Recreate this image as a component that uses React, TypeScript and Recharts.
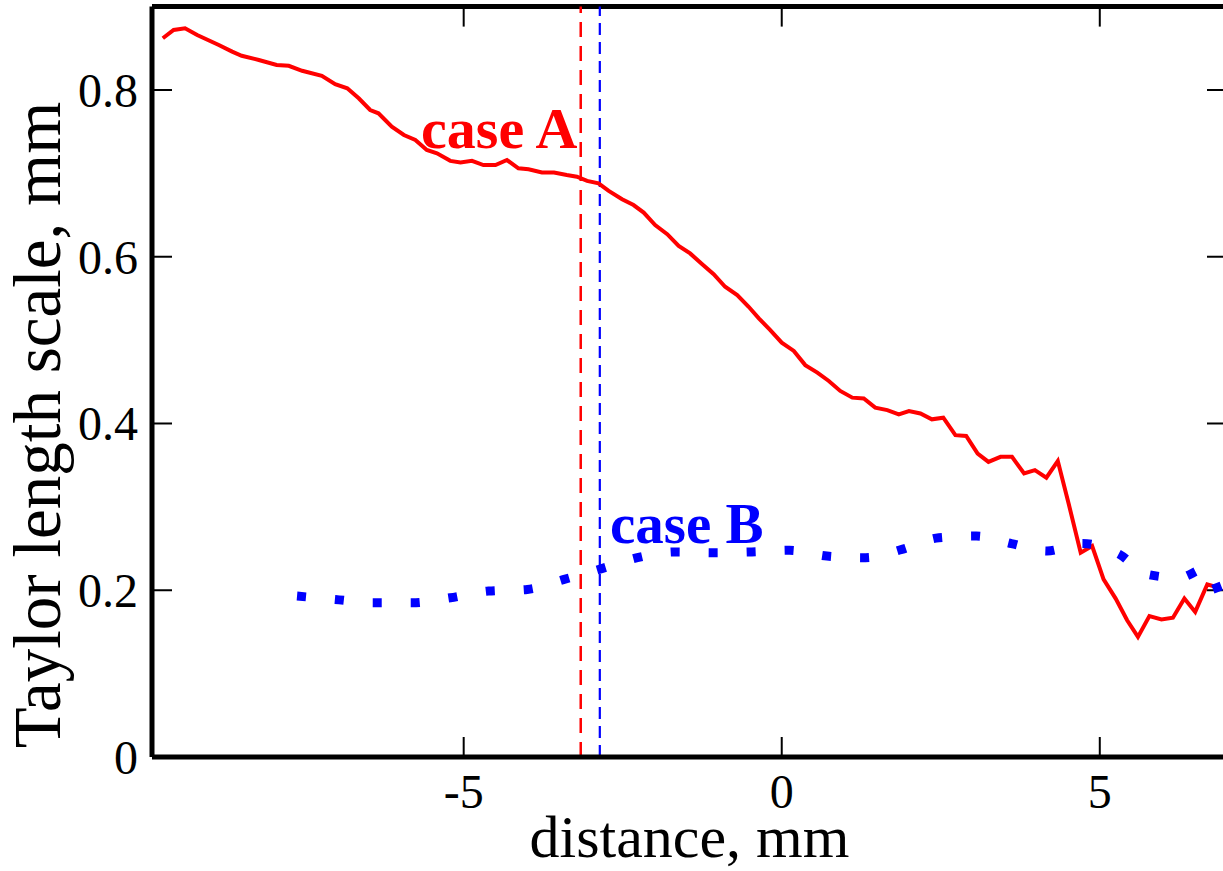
import React from 'react';
import { LineChart, Line, XAxis, YAxis, ReferenceLine, ReferenceDot, Label } from 'recharts';

// case A (red solid): [distance mm, Taylor length scale mm]
const caseA: [number, number][] = [
  [-9.73, 0.862], [-9.56, 0.872], [-9.38, 0.874], [-9.19, 0.866], [-8.85, 0.854], [-8.64, 0.846],
  [-8.49, 0.841], [-8.22, 0.836], [-7.94, 0.830], [-7.75, 0.829], [-7.54, 0.823], [-7.23, 0.817],
  [-7.02, 0.807], [-6.83, 0.802], [-6.65, 0.790], [-6.47, 0.776], [-6.34, 0.772], [-6.13, 0.756],
  [-5.94, 0.746], [-5.76, 0.740], [-5.58, 0.728], [-5.42, 0.724], [-5.21, 0.715], [-5.05, 0.713],
  [-4.87, 0.715], [-4.69, 0.710], [-4.50, 0.710], [-4.32, 0.716], [-4.14, 0.706], [-3.98, 0.705],
  [-3.77, 0.701], [-3.58, 0.701], [-3.38, 0.698], [-3.22, 0.696], [-3.06, 0.691], [-2.88, 0.688],
  [-2.72, 0.679], [-2.51, 0.669], [-2.33, 0.662], [-2.17, 0.653], [-1.99, 0.638], [-1.80, 0.627],
  [-1.62, 0.613], [-1.44, 0.604], [-1.25, 0.591], [-1.07, 0.579], [-0.89, 0.564], [-0.70, 0.554],
  [-0.52, 0.540], [-0.36, 0.526], [-0.18, 0.512], [0.00, 0.497], [0.19, 0.487], [0.37, 0.470],
  [0.56, 0.461], [0.74, 0.451], [0.92, 0.439], [1.11, 0.431], [1.29, 0.430], [1.47, 0.419],
  [1.66, 0.416], [1.84, 0.411], [2.00, 0.415], [2.18, 0.412], [2.36, 0.405], [2.54, 0.407],
  [2.73, 0.386], [2.90, 0.385], [3.08, 0.364], [3.25, 0.354], [3.44, 0.360], [3.62, 0.360],
  [3.81, 0.340], [3.98, 0.344], [4.16, 0.335], [4.34, 0.355], [4.51, 0.304], [4.70, 0.245],
  [4.88, 0.253], [5.06, 0.213], [5.25, 0.190], [5.43, 0.164], [5.60, 0.144], [5.78, 0.169],
  [5.97, 0.165], [6.15, 0.167], [6.33, 0.190], [6.50, 0.174], [6.69, 0.207], [6.87, 0.203],
];

// case B (blue dotted)
const caseB: [number, number][] = [
  [-7.62, 0.193], [-7.02, 0.189], [-6.42, 0.185], [-5.81, 0.185], [-5.21, 0.191], [-4.61, 0.199],
  [-4.00, 0.201], [-3.42, 0.213], [-2.83, 0.226], [-2.27, 0.239], [-1.67, 0.246], [-1.07, 0.245],
  [-0.47, 0.246], [0.12, 0.248], [0.71, 0.241], [1.32, 0.239], [1.89, 0.249], [2.47, 0.263],
  [3.06, 0.265], [3.61, 0.256], [4.17, 0.247], [4.72, 0.256], [5.31, 0.243], [5.75, 0.219],
  [6.25, 0.215], [6.66, 0.226], [6.87, 0.198],
];

const xTicks = [-5, 0, 5];
const yTicks = [0, 0.2, 0.4, 0.6, 0.8];
const yInnerTicks = [0.2, 0.4, 0.6, 0.8];
const xDomain: [number, number] = [-9.9, 7];
const yDomain: [number, number] = [0, 0.9];
const markerA = -3.16;
const markerB = -2.86;
const annotA = { x: -5.67, y: 0.73, text: 'case A' };
const annotB = { x: -2.7, y: 0.2566, text: 'case B' };
const xTitle = 'distance, mm';
const yTitle = 'Taylor length scale, mm';

const caseAData = caseA.map(([x, y]) => ({ x, y }));
const caseBData = caseB.map(([x, y]) => ({ x, y }));

const FONT = '"Liberation Serif", "Times New Roman", serif';
const TICK_FS = 48;
const TICK_LEN = 20;

const BottomTick = (props: any) => {
  const { x, y, payload } = props;
  return (
    <g>
      <line x1={x} x2={x} y1={y} y2={y - TICK_LEN} stroke="#000" strokeWidth={2} />
      <text x={x} y={y + 51} textAnchor="middle" fontSize={TICK_FS} fontFamily={FONT} fill="#000">
        {String(payload.value)}
      </text>
    </g>
  );
};

const LeftTick = (props: any) => {
  const { x, y, payload } = props;
  return (
    <g>
      {payload.value !== 0 && (
        <line x1={x} x2={x + TICK_LEN} y1={y} y2={y} stroke="#000" strokeWidth={2} />
      )}
      <text x={x - 14} y={y + 17} textAnchor="end" fontSize={TICK_FS} fontFamily={FONT} fill="#000">
        {String(payload.value)}
      </text>
    </g>
  );
};

// top-edge tick for a vertical reference line
const TopTickShape = (p: any) => {
  const top = Math.min(p.y1, p.y2);
  return <line x1={p.x1} x2={p.x1} y1={top} y2={top + TICK_LEN} stroke="#000" strokeWidth={2} />;
};

// right-edge tick for a horizontal reference line
const RightTickShape = (p: any) => {
  const right = Math.max(p.x1, p.x2);
  return <line x1={right} x2={right - TICK_LEN} y1={p.y1} y2={p.y1} stroke="#000" strokeWidth={2} />;
};

const annotLabel = (text: string, color: string, fs: number) => (p: any) => {
  const vb = p.viewBox || {};
  return (
    <text x={vb.x} y={vb.y} textAnchor="start" fontSize={fs} fontWeight="bold" fontFamily={FONT} fill={color}>
      {text}
    </text>
  );
};

export default function App() {
  return (
    <div style={{ position: 'absolute', left: 0, top: 0, width: 1223, height: 871, overflow: 'hidden', background: '#fff' }}>
      <LineChart width={1240} height={871} margin={{ top: 6.6, right: 13, bottom: 0, left: 0 }}>
        <XAxis
          xAxisId="main"
          type="number"
          dataKey="x"
          domain={xDomain}
          ticks={xTicks}
          allowDataOverflow
          interval={0}
          height={114}
          tickSize={0}
          tickMargin={0}
          tickLine={false}
          axisLine={{ stroke: '#000', strokeWidth: 5 }}
          tick={<BottomTick />}
        >
          <Label
            content={(p: any) => {
              const vb = p.viewBox;
              return (
                <text x={vb.x + vb.width / 2} y={vb.y + 100} textAnchor="middle" fontSize={60} fontFamily={FONT} fill="#000">
                  {xTitle}
                </text>
              );
            }}
          />
        </XAxis>
        <YAxis
          yAxisId="main"
          type="number"
          domain={yDomain}
          ticks={yTicks}
          allowDataOverflow
          interval={0}
          width={152}
          tickSize={0}
          tickMargin={0}
          tickLine={false}
          axisLine={{ stroke: '#000', strokeWidth: 5 }}
          tick={<LeftTick />}
        >
          <Label
            content={() => {
              const cx = 60;
              const cy = 425;
              return (
                <text x={cx} y={cy} transform={`rotate(-90 ${cx} ${cy})`} textAnchor="middle" fontSize={67} fontFamily={FONT} fill="#000">
                  {yTitle}
                </text>
              );
            }}
          />
        </YAxis>
        {/* top frame */}
        <ReferenceLine xAxisId="main" yAxisId="main" y={yDomain[1]} stroke="#000" strokeWidth={5} />
        {xTicks.map((t) => (
          <ReferenceLine key={`tt${t}`} xAxisId="main" yAxisId="main" x={t} stroke="none" shape={TopTickShape} />
        ))}
        {yInnerTicks.map((t) => (
          <ReferenceLine key={`rt${t}`} xAxisId="main" yAxisId="main" y={t} stroke="none" shape={RightTickShape} />
        ))}
        <ReferenceLine xAxisId="main" yAxisId="main" x={markerA} stroke="#ff0000" strokeWidth={2.5} strokeDasharray="15 9" />
        <ReferenceLine xAxisId="main" yAxisId="main" x={markerB} stroke="#0000ff" strokeWidth={2.2} strokeDasharray="12 7" />
        <Line
          xAxisId="main"
          yAxisId="main"
          data={caseAData}
          dataKey="y"
          type="linear"
          stroke="#ff0000"
          strokeWidth={4}
          dot={false}
          activeDot={false}
          isAnimationActive={false}
        />
        <Line
          xAxisId="main"
          yAxisId="main"
          data={caseBData}
          dataKey="y"
          type="monotone"
          stroke="#0000ff"
          strokeWidth={9}
          strokeDasharray="9 29"
          strokeLinecap="butt"
          dot={false}
          activeDot={false}
          isAnimationActive={false}
        />
        <ReferenceDot xAxisId="main" yAxisId="main" x={annotA.x} y={annotA.y} r={0} stroke="none" fill="none" label={annotLabel(annotA.text, '#ff0000', 58)} />
        <ReferenceDot xAxisId="main" yAxisId="main" x={annotB.x} y={annotB.y} r={0} stroke="none" fill="none" label={annotLabel(annotB.text, '#0000ff', 57)} />
      </LineChart>
    </div>
  );
}
